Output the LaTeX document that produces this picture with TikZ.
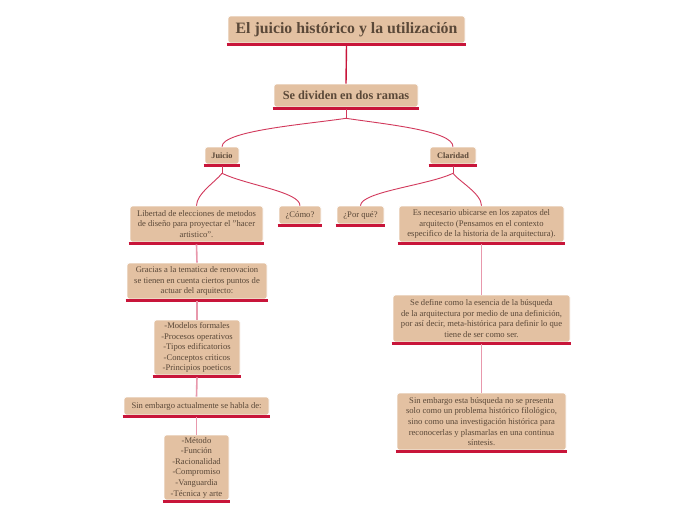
\documentclass[tikz,border=0pt]{standalone}
\usepackage{fontspec}
\setmainfont{Liberation Serif}
\definecolor{boxfill}{HTML}{E3C1A2}
\definecolor{txt}{HTML}{5A4838}
\definecolor{uline}{HTML}{C8153A}
\definecolor{curve}{HTML}{D2395C}
\definecolor{vline}{HTML}{E898AC}
\begin{document}
\begin{tikzpicture}[x=1pt,y=-1pt,
  box/.style={fill=boxfill, draw=white, line width=0.6pt, rounded corners=2.5pt, text=txt, align=center, inner sep=0pt, font=\fontsize{8.6}{10.6}\selectfont},
  branch/.style={draw=curve, line width=0.9pt},
  straight/.style={draw=vline, line width=1.6pt},
  ul/.style={draw=uline, line width=2.4pt}]
\useasboundingbox (0,0) rectangle (696,520);
\fill[white] (0,0) rectangle (696,520);

\newcommand{\bx}[6]{\node[box, minimum width=#4pt, minimum height=#5pt] (#1) at (#2,#3) {#6};}
\bx{title}{346.5}{29.5}{237}{27}{\fontsize{15.8}{18}\selectfont\bfseries El juicio histórico y la utilización}
\bx{ramas}{346}{95.5}{144}{23}{\fontsize{12.3}{14}\selectfont\bfseries Se dividen en dos ramas}
\bx{juicio}{222}{155.5}{34}{17}{\fontsize{8.3}{10}\selectfont\bfseries Juicio}
\bx{claridad}{453}{155.5}{46}{17}{\fontsize{8.3}{10}\selectfont\bfseries Claridad}
\bx{libertad}{196.5}{224}{133}{36}{Libertad de elecciones de metodos\\de diseño para proyectar el "hacer\\artistico".}
\bx{como}{300}{215}{42}{18}{¿Cómo?}
\bx{porque}{360.5}{215}{47}{18}{¿Por qué?}
\bx{necesario}{481.5}{224}{165}{36}{Es necesario ubicarse en los zapatos del\\arquitecto (Pensamos en el contexto\\especifico de la historia de la arquitectura).}
\bx{gracias}{197}{281}{140}{36}{Gracias a la tematica de renovacion\\se tienen en cuenta ciertos puntos de\\actuar del arquitecto:}
\bx{modelos}{197}{347.5}{86}{55}{-Modelos formales\\-Procesos operativos\\-Tipos edificatorios\\-Conceptos criticos\\-Principios poeticos}
\bx{actual}{196.5}{406}{145}{18}{Sin embargo actualmente se habla de:}
\bx{metodo}{196.5}{467.5}{65}{65}{-Método\\-Función\\-Racionalidad\\-Compromiso\\-Vanguardia\\-Técnica y arte}
\bx{define}{481.5}{318.5}{177}{47}{Se define como la esencia de la búsqueda\\de la arquitectura por medio de una definición,\\por así decir, meta-histórica para definir lo que\\tiene de ser como ser.}
\bx{esta}{481.5}{421.5}{169}{57}{Sin embargo esta búsqueda no se presenta\\solo como un problema histórico filológico,\\sino como una investigación histórica para\\reconocerlas y plasmarlas en una continua\\síntesis.}

\foreach \n in {title,ramas,juicio,claridad,libertad,como,porque,necesario,gracias,modelos,actual,metodo,define,esta}
  \draw[ul] ([shift={(-1,1)}]\n.south west) -- ([shift={(1,1)}]\n.south east);

% connectors
\draw[draw=uline, line width=1.4pt] ([shift={(0,2)}]title.south) -- (ramas.north);
\coordinate (j1) at ([shift={(0,11)}]ramas.south);
\draw[branch] ([shift={(0,2)}]ramas.south) -- (j1);
\draw[branch] (j1) .. controls ([shift={(-40,6)}]j1) and ([shift={(0,-16)}]juicio.north) .. (juicio.north);
\draw[branch] (j1) .. controls ([shift={(40,6)}]j1) and ([shift={(0,-16)}]claridad.north) .. (claridad.north);
\coordinate (j2) at ([shift={(0,9)}]juicio.south);
\draw[branch] ([shift={(0,2)}]juicio.south) -- (j2);
\draw[branch] (j2) .. controls ([shift={(-6,8)}]j2) and ([shift={(0,-12)}]libertad.north) .. (libertad.north);
\draw[branch] (j2) .. controls ([shift={(25,12)}]j2) and ([shift={(0,-14)}]como.north) .. (como.north);
\coordinate (j3) at ([shift={(0,9)}]claridad.south);
\draw[branch] ([shift={(0,2)}]claridad.south) -- (j3);
\draw[branch] (j3) .. controls ([shift={(-25,12)}]j3) and ([shift={(0,-14)}]porque.north) .. (porque.north);
\draw[branch] (j3) .. controls ([shift={(6,8)}]j3) and ([shift={(0,-12)}]necesario.north) .. (necesario.north);
\draw[straight] ([shift={(0,2)}]libertad.south) -- (gracias.north);
\draw[straight] ([shift={(0,2)}]gracias.south) -- (modelos.north);
\draw[straight] ([shift={(0,2)}]modelos.south) -- (actual.north);
\draw[straight] ([shift={(0,2)}]actual.south) -- (metodo.north);
\draw[straight] ([shift={(0,2)}]necesario.south) -- (define.north);
\draw[straight] ([shift={(0,2)}]define.south) -- (esta.north);
\end{tikzpicture}
\end{document}
